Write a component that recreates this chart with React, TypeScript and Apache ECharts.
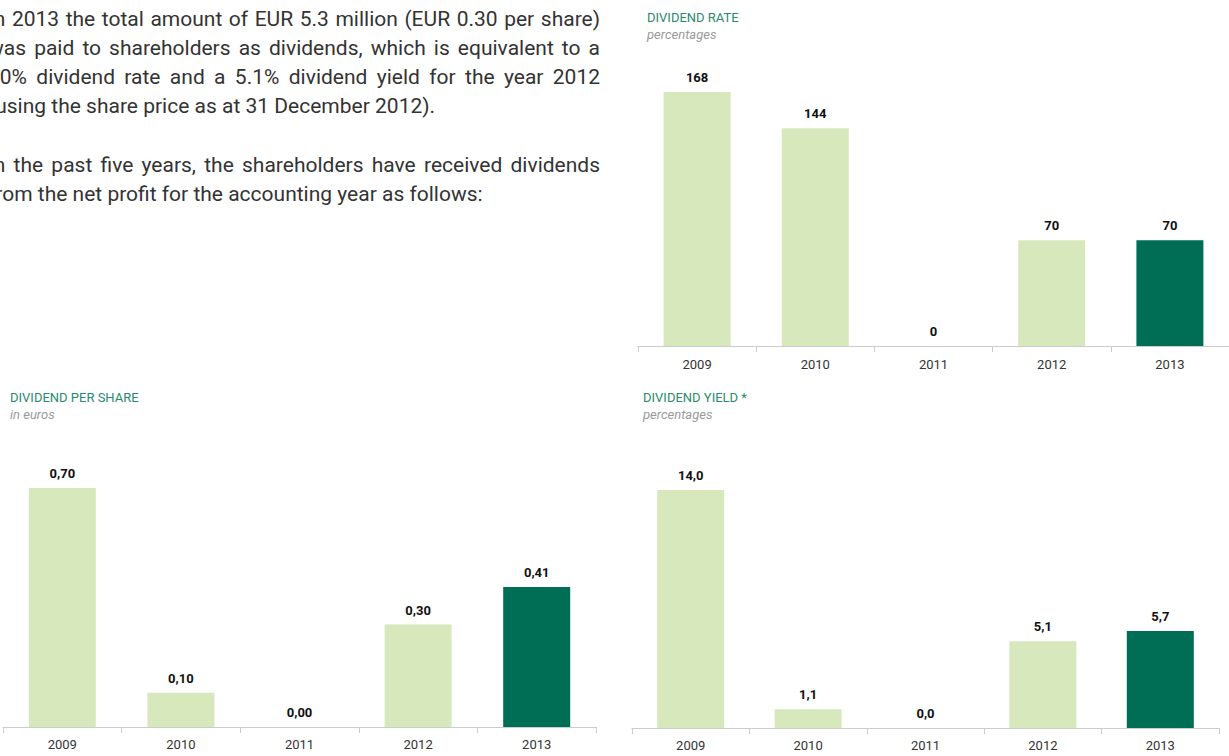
import React, { useEffect, useRef } from "react";
import * as echarts from "echarts";

const years = ["2009", "2010", "2011", "2012", "2013"];
const dividendRate = [168, 144, 0, 70, 70];
const dividendPerShare = [0.7, 0.1, 0.0, 0.3, 0.41];
const dividendYield = [14.0, 1.1, 0.0, 5.1, 5.7];

const paragraphLines = [
  { text: "In 2013 the total amount of EUR 5.3 million (EUR 0.30 per share)", y: 19, justify: true },
  { text: "was paid to shareholders as dividends, which is equivalent to a", y: 48, justify: true },
  { text: "70% dividend rate and a 5.1% dividend yield for the year 2012", y: 77, justify: true },
  { text: "(using the share price as at 31 December 2012).", y: 106, justify: false },
  { text: "In the past five years, the shareholders have received dividends", y: 165, justify: true },
  { text: "from the net profit for the accounting year as follows:", y: 194, justify: false },
];

const LIGHT = "#d7e8bd";
const DARK = "#006e55";
const TITLE = "#2a8a6c";
const FONT = "Roboto, 'Noto Sans', sans-serif";
const PARA_FONT = "21px Roboto";
const PARA_LEFT = -12;
const PARA_RIGHT = 600;

function barSeries(data: number[], idx: number, fmt: (v: number) => string) {
  return {
    type: "bar",
    xAxisIndex: idx,
    yAxisIndex: idx,
    barWidth: 67,
    data: data.map((v, i) => ({
      value: v,
      itemStyle: { color: i === data.length - 1 ? DARK : LIGHT },
    })),
    label: {
      show: true,
      position: "top",
      distance: 8,
      fontFamily: FONT,
      fontWeight: "bold",
      fontSize: 13,
      color: "#111",
      formatter: (p: any) => fmt(p.value),
    },
  };
}

function xAxis(idx: number, margin: number) {
  return {
    type: "category",
    gridIndex: idx,
    data: years,
    axisLine: { lineStyle: { color: "#cccccc", width: 1 } },
    axisTick: { show: true, length: 6, lineStyle: { color: "#cccccc" } },
    axisLabel: { color: "#333", fontSize: 13, fontFamily: FONT, margin },
  };
}

function yAxis(idx: number, data: number[]) {
  return {
    type: "value",
    gridIndex: idx,
    min: 0,
    max: Math.max(...data),
    show: false,
    splitLine: { show: false },
  };
}

function titleText(x: number, y: number, t: string, sub: string) {
  return [
    {
      type: "text",
      x,
      y,
      style: { text: t, fill: TITLE, font: `13px ${FONT}`, textVerticalAlign: "middle" },
    },
    {
      type: "text",
      x,
      y: y + 17,
      style: {
        text: sub,
        fill: "#9a9a9a",
        font: `italic 13px ${FONT}`,
        textVerticalAlign: "middle",
      },
    },
  ];
}

export default function App() {
  const ref = useRef<HTMLDivElement>(null);
  useEffect(() => {
    if (!ref.current) return;
    const chart = echarts.init(ref.current, undefined, { renderer: "svg" });
    const graphics: any[] = [];
    const canvas = document.createElement("canvas");
    const ctx = canvas.getContext("2d")!;
    ctx.font = PARA_FONT;
    paragraphLines.forEach((l) => {
      if (!l.justify) {
        graphics.push({
          type: "text",
          x: PARA_LEFT,
          y: l.y,
          style: { text: l.text, fill: "#333", font: PARA_FONT, textVerticalAlign: "middle" },
        });
        return;
      }
      const words = l.text.split(" ");
      const widths = words.map((w) => ctx.measureText(w).width);
      const total = widths.reduce((a, b) => a + b, 0);
      const gap = (PARA_RIGHT - PARA_LEFT - total) / (words.length - 1);
      let x = PARA_LEFT;
      words.forEach((w, i) => {
        graphics.push({
          type: "text",
          x,
          y: l.y,
          style: { text: w, fill: "#333", font: PARA_FONT, textVerticalAlign: "middle" },
        });
        x += widths[i] + gap;
      });
    });
    graphics.push(...titleText(647, 17, "DIVIDEND RATE", "percentages"));
    graphics.push(...titleText(10, 397, "DIVIDEND PER SHARE", "in euros"));
    graphics.push(...titleText(643, 397, "DIVIDEND YIELD *", "percentages"));

    chart.setOption({
      animation: false,
      backgroundColor: "#ffffff",
      grid: [
        { left: 638, top: 92, width: 592, height: 254 },
        { left: 3, top: 488, width: 593, height: 239 },
        { left: 632, top: 490, width: 587, height: 238 },
      ],
      xAxis: [xAxis(0, 12), xAxis(1, 11), xAxis(2, 11)],
      yAxis: [
        yAxis(0, dividendRate),
        yAxis(1, dividendPerShare),
        yAxis(2, dividendYield),
      ],
      series: [
        barSeries(dividendRate, 0, (v) => String(Math.round(v))),
        barSeries(dividendPerShare, 1, (v) => v.toFixed(2).replace(".", ",")),
        barSeries(dividendYield, 2, (v) => v.toFixed(1).replace(".", ",")),
      ],
      graphic: graphics,
    });
    return () => chart.dispose();
  }, []);
  return (
    <div
      ref={ref}
      style={{ position: "fixed", left: 0, top: 0, width: 1229, height: 756, background: "#fff" }}
    />
  );
}
